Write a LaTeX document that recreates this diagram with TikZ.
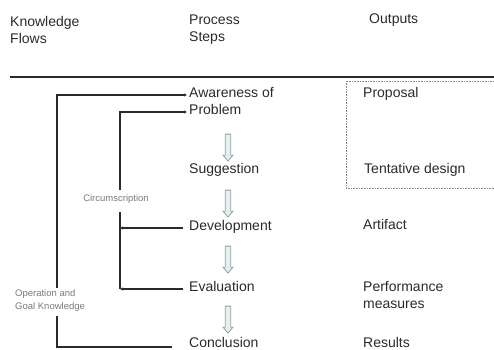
\documentclass[tikz,border=0pt]{standalone}
\usepackage{fontspec}
\setmainfont{Liberation Sans}
\usetikzlibrary{arrows.meta,shapes.arrows}

\definecolor{inkgray}{HTML}{2A2A2A}
\definecolor{notegray}{HTML}{7A7A7A}
\definecolor{boxgray}{HTML}{8A8A8A}
\definecolor{arrowedge}{HTML}{8FA3A3}
\definecolor{arrowfill}{HTML}{E6EFEF}

\tikzset{
  heading/.style={anchor=north west, inner sep=0pt, align=left, text=inkgray,
    font=\fontsize{14}{17}\selectfont},
  note/.style={inner sep=0pt, align=left, text=notegray,
    font=\fontsize{9.5}{12.5}\selectfont},
  flow/.style={draw=inkgray, line width=1.2pt},
  flowtip/.style={-{Latex[length=3pt,width=3.5pt]}},
  stepdown/.style={shape=single arrow, shape border rotate=270, draw=arrowedge,
    fill=arrowfill, line width=0.8pt, inner sep=2.3pt, minimum height=27pt,
    single arrow head extend=2.2pt, single arrow tip angle=80},
}

\begin{document}
\begin{tikzpicture}[x=1pt,y=-1pt]
    \useasboundingbox (0,0) rectangle (494,349);

    % column headings
    \node[heading] (hflows) at (10,16) {Knowledge\\Flows};
    \node[heading] (hsteps) at (189,15) {Process\\Steps};
    \node[heading] (hout) at (369,14) {Outputs};
    \draw[draw=inkgray, line width=1.5pt] (10,77) -- (494,77);

    % process steps
    \node[heading] (aware) at (189,87) {Awareness of\\Problem};
    \node[heading] (suggest) at (189,163) {Suggestion};
    \node[heading] (develop) at (189,220) {Development};
    \node[heading] (evaluate) at (189,281) {Evaluation};
    \node[heading] (conclude) at (189,337) {Conclusion};

    \node[stepdown] (down1) at (228,146) {};
    \node[stepdown] (down2) at (228,202) {};
    \node[stepdown] (down3) at (228,258) {};
    \node[stepdown] (down4) at (228,318) {};

    % outputs
    \draw[boxgray, line width=0.8pt, dash pattern=on 0.8pt off 0.8pt]
        (346,81) rectangle (500,188);
    \node[heading] (proposal) at (363,87) {Proposal};
    \node[heading] (tentative) at (364,163) {Tentative design};
    \node[heading] (artifact) at (363,219) {Artifact};
    \node[heading] (perform) at (363,281) {Performance\\measures};
    \node[heading] (results) at (363,337) {Results};

    % knowledge flows
    \node[note, anchor=center] (circ) at (116,199) {Circumscription};
    \node[note, anchor=north west] (opgoal) at (15,289.5) {Operation and\\Goal Knowledge};

    \coordinate (aware in) at (187,95);
    \coordinate (problem in) at (187,112);
    \coordinate (ok upper) at (57,288);
    \coordinate (ok lower) at (57,316);
    \coordinate (ok end) at (172,347);
    \coordinate (circ upper) at (120,190);
    \coordinate (circ lower) at (120,212);
    \coordinate (dev out) at (183,228);
    \coordinate (eval out) at (183,289);

    \draw[flow,flowtip] (ok upper) |- (aware in);
    \draw[flow] (ok end) -| (ok lower);
    \draw[flow,flowtip] (circ upper) |- (problem in);
    \draw[flow] (circ lower) -- (circ lower |- eval out);
    \draw[flow,flowtip] (dev out) -- (dev out -| circ lower);
    \draw[flow,flowtip] (eval out) -- (eval out -| circ lower);
\end{tikzpicture}
\end{document}
